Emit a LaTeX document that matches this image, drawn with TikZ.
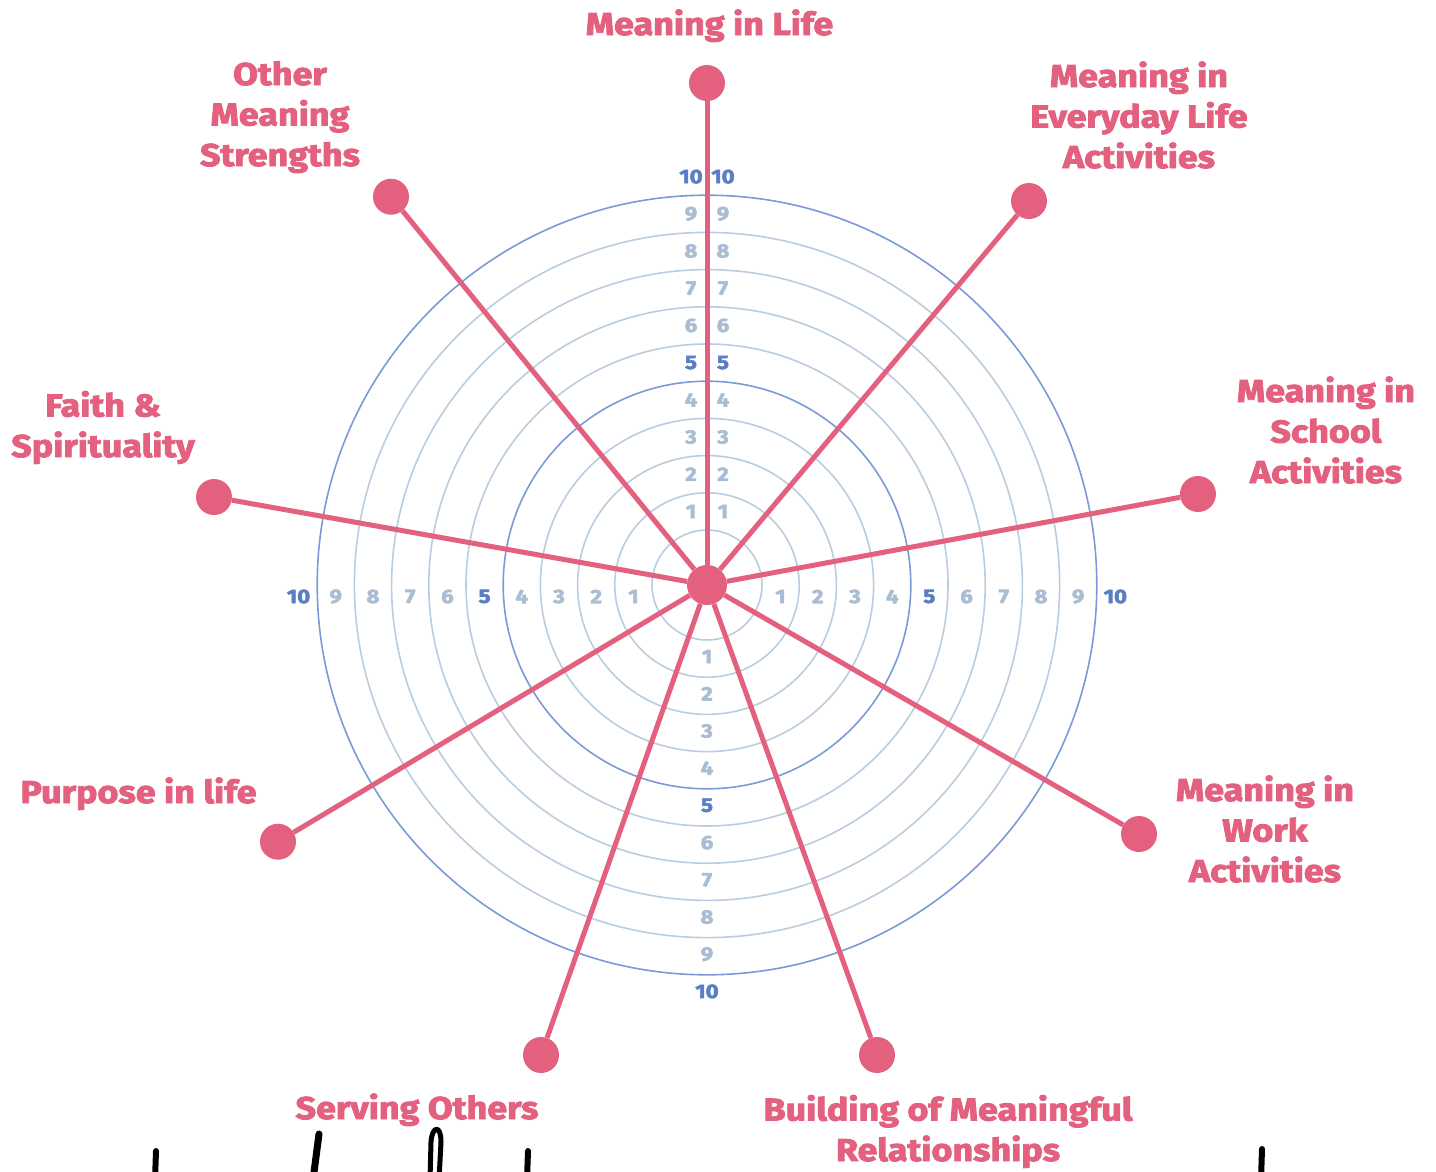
\documentclass[tikz,border=0pt]{standalone}
\usepackage{fontspec}
\setmainfont{Fira Sans}
\newfontfamily\labfont{Fira Sans}[BoldFeatures={FakeBold=2.8,FakeStretch=1.14}]
\usetikzlibrary{calc}
\definecolor{pinkc}{HTML}{E3607F}
\definecolor{ringlight}{HTML}{BACDE0}
\definecolor{ringdark}{HTML}{7B9AD8}
\definecolor{numlight}{HTML}{A9BED3}
\definecolor{numdark}{HTML}{5A7EC4}
\begin{document}
\begin{tikzpicture}[x=1pt,y=-1pt,
  spoke/.style={draw=pinkc,line width=5pt},
  enddot/.style={circle,fill=pinkc,minimum size=36pt,inner sep=0pt},
  hubdot/.style={circle,fill=pinkc,minimum size=40pt,inner sep=0pt},
  ringthin/.style={draw=ringlight,line width=1.6pt},
  ringthick/.style={draw=ringdark,line width=1.6pt},
  numl/.style={text=numlight,font=\labfont\bfseries\fontsize{19.5}{19.5}\selectfont,inner sep=0pt},
  numd/.style={text=numdark,font=\labfont\bfseries\fontsize{19.5}{19.5}\selectfont,inner sep=0pt},
  lab/.style={text=pinkc,font=\labfont\bfseries\fontsize{31.5}{40.5}\selectfont,align=center,inner sep=0pt,anchor=base},
  ink/.style={draw=black,line width=6pt,line cap=round,line join=round}]
\useasboundingbox (0,0) rectangle (1436,1171);
\fill[white] (0,0) rectangle (1436,1171);
\coordinate (c) at (707,585);
% rings
\foreach \k in {1,2,3,4,6,7,8,9} {\draw[ringthin] (c) circle ({17.8+37.2*\k});}
\foreach \k in {5,10} {\draw[ringthick] (c) circle ({17.8+37.2*\k});}
% scale numbers
\foreach \k/\s in {1/numl,2/numl,3/numl,4/numl,5/numd,6/numl,7/numl,8/numl,9/numl,10/numd} {
  \pgfmathsetmacro\r{36.4+37.2*\k}
  \node[\s] (nul-\k) at (691,585-\r) {\k};
  \node[\s] (nur-\k) at (723,585-\r) {\k};
  \node[\s] (nr-\k) at (707+\r,596.5) {\k};
  \node[\s] (nl-\k) at (707-\r,596.5) {\k};
  \node[\s] (nd-\k) at (707,583+\r) {\k};
}
% spokes
\node[hubdot] (hub) at (c) {};
\foreach \p [count=\i] in {(707,83),(1029,201),(1198,494),(1139,834),(877,1055),(541,1055),(278,841.7),(214,497),(391,196.7)} {
  \node[enddot] (e\i) at \p {};
  \draw[spoke] (hub) -- (e\i);
}
% labels (anchor = baseline of the last line)
\node[lab] (l1) at (709.5,35) {Meaning in Life};
\node[lab] (l2) at (1139,168) {Meaning in\\Everyday Life\\Activities};
\node[lab] (l3) at (1326,483) {Meaning in\\School\\Activities};
\node[lab] (l4) at (1265,882) {Meaning in\\Work\\Activities};
\node[lab] (l5) at (948,1161) {Building of Meaningful\\Relationships};
\node[lab] (l6) at (417,1119) {Serving Others};
\node[lab] (l7) at (138.5,803) {Purpose in life};
\node[lab] (l8) at (103,457) {Faith \&\\Spirituality};
\node[lab] (l9) at (280,166) {Other\\Meaning\\Strengths};
% handwriting fragments at the bottom edge
\draw[ink] (156,1151) -- (155,1180);
\draw[ink,line width=7pt] (319,1134) -- (313,1180);
\draw[ink,line width=5pt] (430,1180) -- (431,1142) .. controls (432,1126) and (441,1124) .. (441,1142) -- (439,1180);
\draw[ink] (528,1151) -- (527,1180);
\draw[ink] (1262,1149) -- (1261,1180);
\end{tikzpicture}
\end{document}
